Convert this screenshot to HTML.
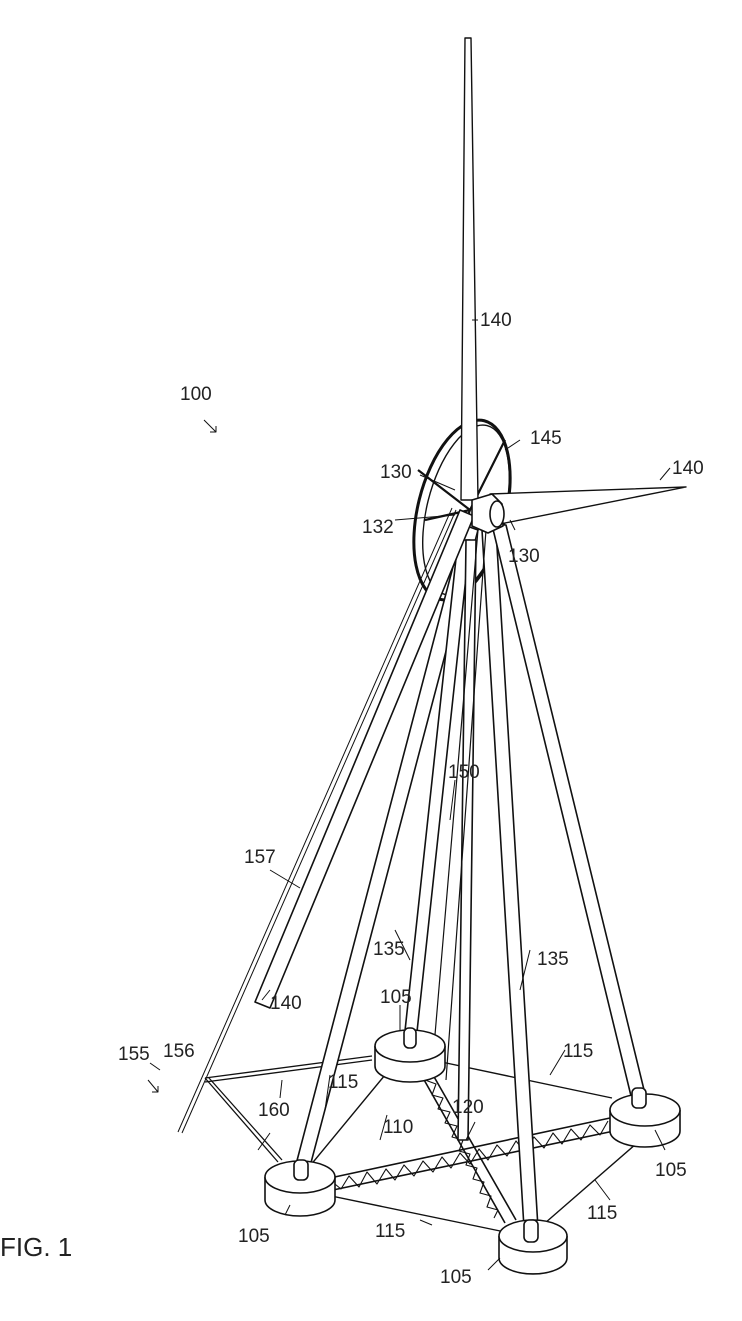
<!DOCTYPE html>
<html><head><meta charset="utf-8"><style>
html,body{margin:0;padding:0;background:#fff;}
svg{display:block;}
text{font-family:"Liberation Sans",sans-serif;font-size:19px;fill:#222;}
</style></head><body>
<svg width="742" height="1321" viewBox="0 0 742 1321" xmlns="http://www.w3.org/2000/svg">
<g fill="none" stroke="#111" stroke-width="1.6" stroke-linejoin="round">
<path d="M178 1132 L452 508 M182 1133 L456 510" stroke-width="1"/>
<path d="M205 1078 L372 1056 M205 1082 L372 1060 M205 1078 L278 1162 M209 1078 L282 1160" stroke-width="1.3"/>
<path d="M300 1178 L385 1075 M432 1060 L612 1098 M675 1110 L537 1230 M312 1192 L505 1232" stroke-width="1.4"/>
<path d="M330 1178 L610 1118 M333 1190 L614 1131" />
<path d="M330 1180 L341 1189 L349 1176 L359 1187 L367 1172 L377 1184 L386 1169 L395 1180 L404 1165 L414 1176 L423 1161 L433 1172 L442 1157 L451 1168 L460 1153 L470 1164 L479 1149 L488 1160 L497 1145 L507 1156 L516 1141 L525 1152 L534 1137 L544 1148 L553 1133 L562 1144 L571 1129 L581 1140 L590 1125 L600 1135 L608 1121" stroke-width="1.1"/>
<path d="M423 1078 L505 1223 M433 1075 L516 1220" />
<path d="M425 1080 L436 1084 L432 1095 L443 1098 L438 1109 L450 1112 L445 1123 L457 1126 L452 1137 L463 1140 L459 1151 L470 1154 L466 1165 L477 1168 L473 1179 L484 1182 L480 1193 L491 1196 L487 1207 L498 1210 L494 1218" stroke-width="1.1"/>
<ellipse cx="462" cy="510" rx="44" ry="92" transform="rotate(14 462 510)" stroke-width="3"/>
<ellipse cx="466" cy="510" rx="39" ry="87" transform="rotate(14 466 510)" stroke-width="1.4"/>
<path d="M418 470 L470 510 M505 440 L470 510 M440 590 L470 510 M425 520 L470 510" stroke-width="2.2"/>
<path d="M465 38 L471 38 L478 500 L461 500 Z" fill="#fff" stroke-width="1.4"/>
<path d="M490 494 L686 487 L500 524 Z" fill="#fff" stroke-width="1.4"/>
<path d="M464 525 L294 1172 L308 1174 L478 530 Z" fill="#fff"/>
<path d="M458 540 L404 1040 L416 1041 L470 540 Z" fill="#fff"/>
<path d="M466 540 L458 1140 L468 1140 L476 540 Z" fill="#fff"/>
<path d="M482 530 L524 1228 L538 1228 L496 530 Z" fill="#fff"/>
<path d="M492 525 L632 1100 L646 1098 L506 525 Z" fill="#fff"/>
<path d="M478 530 L432 1070 M486 530 L446 1080" stroke-width="1.2"/>
<path d="M460 510 L474 516 L270 1008 L255 1002 Z" fill="#fff" stroke-width="1.6"/>
<path d="M472 500 L492 494 L502 504 L503 526 L488 533 L472 526 Z" fill="#fff"/>
<ellipse cx="497" cy="514" rx="7" ry="13" fill="#fff"/>
<g fill="#fff">
<path d="M265 1177 L265 1200 A35 16 0 0 0 335 1200 L335 1177"/><ellipse cx="300" cy="1177" rx="35" ry="16"/>
<path d="M375 1046 L375 1066 A35 16 0 0 0 445 1066 L445 1046"/><ellipse cx="410" cy="1046" rx="35" ry="16"/>
<path d="M610 1110 L610 1131 A35 16 0 0 0 680 1131 L680 1110"/><ellipse cx="645" cy="1110" rx="35" ry="16"/>
<path d="M499 1236 L499 1258 A34 16 0 0 0 567 1258 L567 1236"/><ellipse cx="533" cy="1236" rx="34" ry="16"/>
</g>
<g fill="#fff"><rect x="294" y="1160" width="14" height="20" rx="5"/><rect x="404" y="1028" width="12" height="20" rx="5"/><rect x="632" y="1088" width="14" height="20" rx="5"/><rect x="524" y="1220" width="14" height="22" rx="5"/></g>
<path d="M478 320 L472 320 M420 475 L455 490 M395 520 L455 515 M505 450 L520 440 M660 480 L670 468 M510 520 L515 530 M270 870 L300 888 M270 990 L262 1000 M455 780 L450 820 M395 930 L410 960 M530 950 L520 990 M400 1005 L400 1030 M282 1080 L280 1098 M270 1133 L258 1150 M330 1075 L325 1110 M387 1115 L380 1140 M475 1122 L466 1140 M565 1050 L550 1075 M665 1150 L655 1130 M610 1200 L595 1180 M432 1225 L420 1220 M285 1215 L290 1205 M488 1270 L500 1258 M150 1063 L160 1070" stroke-width="1"/>
<path d="M204 420 L216 432 M210 432 L216 432 L216 426" stroke-width="1"/>
<path d="M148 1080 L158 1092 M152 1092 L158 1092 L158 1086" stroke-width="1"/>
</g>
<text x="480" y="326">140</text>
<text x="180" y="400">100</text>
<text x="530" y="444">145</text>
<text x="672" y="474">140</text>
<text x="380" y="478">130</text>
<text x="362" y="533">132</text>
<text x="508" y="562">130</text>
<text x="448" y="778">150</text>
<text x="244" y="863">157</text>
<text x="373" y="955">135</text>
<text x="537" y="965">135</text>
<text x="270" y="1009">140</text>
<text x="380" y="1003">105</text>
<text x="118" y="1060">155</text>
<text x="163" y="1057">156</text>
<text x="563" y="1057">115</text>
<text x="328" y="1088">115</text>
<text x="258" y="1116">160</text>
<text x="452" y="1113">120</text>
<text x="383" y="1133">110</text>
<text x="655" y="1176">105</text>
<text x="587" y="1219">115</text>
<text x="0" y="1256" style="font-size:26px">FIG. 1</text>
<text x="238" y="1242">105</text>
<text x="375" y="1237">115</text>
<text x="440" y="1283">105</text>
</svg>
</body></html>
